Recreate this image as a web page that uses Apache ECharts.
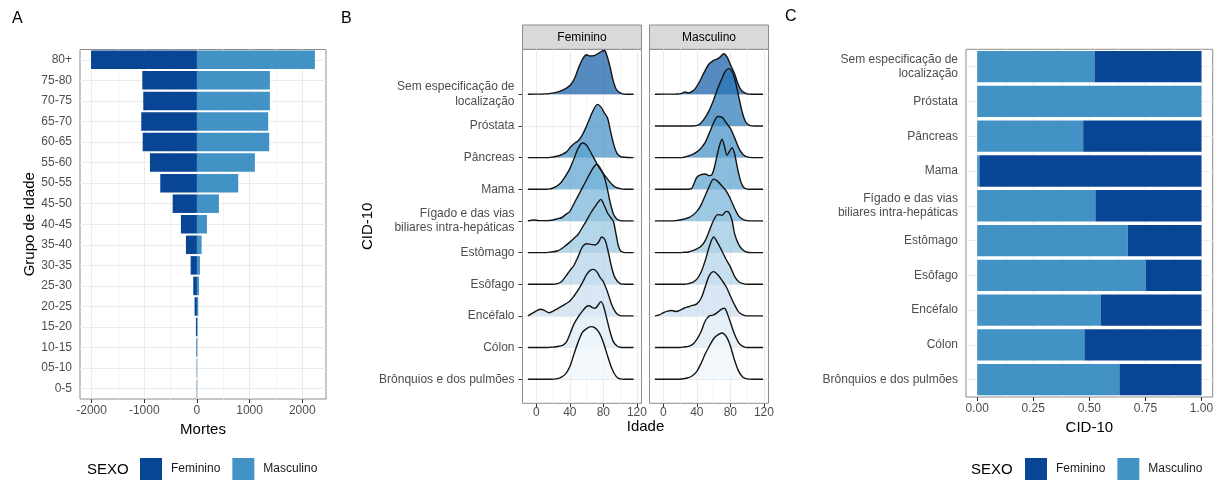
<!DOCTYPE html>
<html>
<head>
<meta charset="utf-8">
<script src="https://cdn.jsdelivr.net/npm/echarts@6/dist/echarts.min.js"></script>
<style>
html, body { margin: 0; padding: 0; background: #fff; }
#chart { width: 1221px; height: 481px; }
</style>
</head>
<body>
<div id="chart"></div>
<script>
// painel A - mortes por grupo de idade
var ageGroups = ['0-5', '05-10', '10-15', '15-20', '20-25', '25-30', '30-35', '35-40', '40-45',
    '45-50', '50-55', '55-60', '60-65', '65-70', '70-75', '75-80', '80+'];
var deathsFem = [-5, -5, -10, -20, -45, -70, -120, -209, -304, -461, -696, -892, -1030, -1057, -1019, -1037, -2010];
var deathsMasc = [5, 5, 8, 15, 25, 40, 57, 89, 190, 417, 784, 1100, 1372, 1353, 1385, 1385, 2239];
var deathTicks = [-2000, -1000, 0, 1000, 2000];
var deathMinor = [-1500, -500, 500, 1500];

// painel B e C - categorias CID-10 (de cima para baixo)
var cidCats = ['Sem especificação de\nlocalização', 'Próstata', 'Pâncreas', 'Mama',
    'Fígado e das vias\nbiliares intra-hepáticas', 'Estômago', 'Esôfago', 'Encéfalo', 'Cólon',
    'Brônquios e dos pulmões'];

// painel C - proporção por sexo
var shareMasc = [0.523, 1.0, 0.4725, 0.01, 0.527, 0.671, 0.752, 0.55, 0.478, 0.634];
var shareFem = [0.477, 0, 0.5275, 0.99, 0.473, 0.329, 0.248, 0.45, 0.522, 0.366];
var shareTicks = [0, 0.25, 0.5, 0.75, 1];
var shareMinor = [0.125, 0.375, 0.625, 0.875];

// painel B - curvas de densidade por idade [idade, altura]
var femSem = [[-10,0],[8,0.01],[15,0.02],[25,0.07],[35,0.18],[41,0.3],[46,0.52],[51,0.88],[56,1.15],[60,1.25],[64,1.21],[70,1.23],[75,1.31],[81,1.39],[84,1.24],[88,0.86],[92,0.4],[96,0.13],[102,0.02],[108,0],[116,0]];
var femPancreas = [[-10,0],[15,0],[20,0.02],[26,0.05],[31,0.1],[36,0.18],[41,0.34],[46,0.46],[50,0.53],[55,0.72],[60,1.0],[65,1.32],[69,1.55],[73,1.68],[77,1.6],[81,1.42],[85,1.25],[88,0.9],[92,0.45],[96,0.15],[100,0.04],[105,0.01],[116,0]];
var femMama = [[-10,0],[12,0],[16,0.01],[20,0.04],[25,0.11],[30,0.23],[35,0.42],[40,0.65],[45,0.97],[50,1.3],[55,1.46],[60,1.39],[65,1.16],[70,0.92],[75,0.68],[80,0.49],[85,0.32],[90,0.16],[95,0.06],[100,0.02],[106,0],[116,0]];
var femFigado = [[-10,0],[-3,0.03],[3,0.01],[12,0.01],[20,0.03],[25,0.07],[30,0.1],[35,0.2],[40,0.3],[45,0.55],[50,0.8],[55,1.05],[60,1.3],[65,1.55],[69,1.72],[72,1.79],[75,1.72],[80,1.47],[84,1.1],[88,0.6],[92,0.22],[96,0.06],[100,0.01],[106,0],[116,0]];
var femEstomago = [[-10,0],[12,0],[18,0.02],[25,0.05],[30,0.12],[35,0.22],[40,0.33],[45,0.45],[50,0.58],[55,0.8],[60,1.02],[65,1.25],[70,1.45],[74,1.6],[77,1.68],[80,1.55],[85,1.25],[89,1.1],[92,0.98],[95,0.6],[98,0.2],[101,0.04],[106,0],[116,0]];
var femEsofago = [[-10,0],[20,0],[25,0.02],[30,0.08],[35,0.25],[40,0.43],[45,0.6],[50,0.88],[55,1.18],[60,1.28],[65,1.26],[70,1.24],[74,1.32],[78,1.49],[82,1.4],[86,1.0],[90,0.52],[94,0.2],[100,0.02],[106,0],[116,0]];
var femEncefalo = [[-10,0],[-5,0.08],[0,0.16],[5,0.21],[10,0.17],[15,0.1],[20,0.15],[25,0.22],[30,0.3],[35,0.38],[40,0.47],[45,0.63],[50,0.82],[55,1.05],[60,1.3],[64,1.43],[68,1.47],[72,1.4],[76,1.22],[80,1.08],[85,0.75],[90,0.35],[95,0.1],[100,0.01],[106,0],[116,0]];
var femColon = [[-10,0],[12,0],[17,0.01],[22,0.02],[27,0.04],[32,0.08],[36,0.18],[40,0.42],[45,0.75],[50,0.97],[55,1.15],[60,1.3],[63,1.32],[67,1.26],[70,1.24],[74,1.35],[77,1.45],[80,1.32],[84,0.92],[88,0.5],[92,0.18],[96,0.06],[100,0.01],[106,0],[116,0]];
var femBronquios = [[-10,0],[18,0],[25,0.02],[30,0.07],[35,0.17],[40,0.4],[45,0.8],[50,1.18],[55,1.48],[60,1.6],[65,1.66],[70,1.62],[75,1.47],[80,1.16],[85,0.74],[90,0.35],[95,0.1],[100,0.01],[106,0],[116,0]];

var mascSem = [[-10,0],[15,0.01],[21,0.02],[26,0.07],[30,0.04],[35,0.1],[38,0.18],[42,0.34],[48,0.65],[54,0.94],[60,1.07],[64,1.11],[68,1.18],[72,1.28],[76,1.18],[80,0.94],[85,0.65],[89,0.34],[93,0.13],[99,0.02],[105,0],[119,0]];
var mascProstata = [[-10,0],[35,0],[42,0.03],[48,0.19],[54,0.45],[60,0.82],[65,1.19],[70,1.5],[74,1.73],[78,1.81],[82,1.72],[86,1.4],[90,0.92],[94,0.45],[98,0.14],[103,0.02],[110,0],[119,0]];
var mascPancreas = [[-10,0],[22,0],[30,0.05],[35,0.1],[40,0.18],[45,0.3],[50,0.48],[55,0.78],[60,1.1],[65,1.3],[70,1.28],[75,1.1],[80,0.92],[85,0.63],[90,0.3],[95,0.1],[100,0.02],[106,0],[119,0]];
var mascMama = [[-10,0],[30,0],[34,0.03],[37,0.2],[40,0.38],[45,0.46],[50,0.48],[55,0.43],[58,0.46],[61,0.7],[64,1.05],[67,1.38],[70,1.58],[73,1.35],[76,1.07],[79,1.2],[82,1.31],[85,1.12],[89,0.6],[93,0.2],[97,0.03],[102,0],[119,0]];
var mascFigado = [[-10,0],[10,0],[15,0.01],[20,0.03],[25,0.06],[30,0.1],[35,0.18],[40,0.3],[45,0.5],[50,0.8],[55,1.1],[60,1.32],[65,1.25],[70,1.1],[75,0.95],[80,0.7],[85,0.4],[90,0.15],[95,0.05],[100,0.01],[106,0],[119,0]];
var mascEstomago = [[-10,0],[20,0],[25,0.01],[30,0.02],[35,0.06],[40,0.12],[45,0.2],[50,0.38],[55,0.7],[60,1.02],[65,1.2],[70,1.18],[75,1.3],[78,1.28],[82,1.02],[85,0.6],[90,0.25],[95,0.08],[100,0.01],[106,0],[119,0]];
var mascEsofago = [[-10,0],[25,0],[30,0.02],[35,0.06],[40,0.16],[45,0.38],[50,0.75],[55,1.2],[60,1.49],[65,1.3],[70,1.05],[75,0.78],[80,0.55],[85,0.25],[90,0.08],[95,0.02],[100,0],[119,0]];
var mascEncefalo = [[-10,0],[-5,0.03],[0,0.1],[5,0.15],[10,0.17],[15,0.14],[20,0.18],[25,0.25],[30,0.29],[35,0.33],[40,0.38],[45,0.55],[50,0.92],[55,1.28],[60,1.4],[65,1.3],[70,1.12],[75,0.92],[80,0.63],[85,0.35],[90,0.12],[95,0.03],[100,0],[119,0]];
var mascColon = [[-10,0],[20,0],[25,0.02],[30,0.04],[35,0.1],[40,0.26],[45,0.5],[50,0.84],[55,1.0],[60,1.03],[65,1.12],[70,1.22],[73,1.24],[76,1.1],[80,0.8],[85,0.42],[90,0.15],[95,0.04],[100,0],[119,0]];
var mascBronquios = [[-10,0],[20,0],[25,0.02],[30,0.05],[35,0.12],[40,0.25],[45,0.5],[50,0.8],[55,1.05],[60,1.28],[65,1.4],[70,1.46],[75,1.35],[80,1.05],[85,0.6],[90,0.25],[95,0.06],[100,0.01],[106,0],[119,0]];

var femRidges = [femSem, null, femPancreas, femMama, femFigado, femEstomago, femEsofago, femEncefalo, femColon, femBronquios];
var mascRidges = [mascSem, mascProstata, mascPancreas, mascMama, mascFigado, mascEstomago, mascEsofago, mascEncefalo, mascColon, mascBronquios];
var ageTicks = [0, 40, 80, 120];
var ageMinor = [20, 60, 100];

var font = '"Liberation Sans", Arial, sans-serif';
var dark = '#084594', light = '#4292c6';
var ridgeFill = ['#0e5aa5', '#2575b7', '#3d8dc4', '#58a1cf', '#74b2d8', '#94c4df', '#b0d2e8', '#c9ddf0', '#dbe9f6', '#eef5fc'];
var labelGrey = '#4d4d4d', border = '#8c8c8c';

var myChart = echarts.init(document.getElementById('chart'));

// linhas de grade (estilo ggplot theme_bw)
function gridLines(major, minor, axis, extra) {
    var d = [];
    minor.forEach(function (v) { var o = {}; o[axis] = v; o.lineStyle = {color: '#f3f3f3'}; d.push(o); });
    major.forEach(function (v) { var o = {}; o[axis] = v; d.push(o); });
    (extra || []).forEach(function (o) { d.push(o); });
    return {
        silent: true, symbol: ['none', 'none'], label: {show: false}, z: 1, animation: false,
        lineStyle: {type: 'solid', width: 1, color: '#ebebeb'}, emphasis: {disabled: true},
        data: d
    };
}
function rowLines(n, axis) {
    var d = [];
    for (var i = 0; i < n; i++) { var o = {}; o[axis] = i; d.push(o); }
    return d;
}

function plain(v) { return String(v); }

function valueX(grid, min, max, ticks, fmt, margin, name, gap) {
    return {
        type: 'value', gridIndex: grid, min: min, max: max,
        splitLine: {show: false},
        axisLine: {show: false, onZero: false},
        axisTick: {show: true, length: 4, lineStyle: {color: '#333'}, customValues: ticks},
        axisLabel: {color: labelGrey, fontSize: 12, fontFamily: font, margin: margin, customValues: ticks, formatter: fmt},
        name: name, nameLocation: 'middle', nameGap: gap,
        nameTextStyle: {fontSize: 15, color: '#000', fontFamily: font}
    };
}

var grid = [
    {left: 80, top: 49.5, width: 246, height: 349.5},
    {left: 522.5, top: 49.3, width: 119, height: 354},
    {left: 649.5, top: 49.3, width: 119, height: 354},
    {left: 966, top: 49.3, width: 246.7, height: 347.7}
].map(function (g) {
    g.show = true; g.borderColor = border; g.borderWidth = 1;
    g.containLabel = false; g.outerBoundsMode = 'none';
    return g;
});

var xAxis = [
    valueX(0, -2220, 2450, deathTicks, plain, 6, 'Mortes', 16),
    valueX(1, -16.5, 125.5, ageTicks, plain, 3, '', 0),
    valueX(2, -16.5, 125.5, ageTicks, plain, 3, '', 0),
    valueX(3, -0.05, 1.05, shareTicks, function (v) { return v.toFixed(2); }, 6, 'CID-10', 20)
];

var yAxis = [
    {
        type: 'category', gridIndex: 0, data: ageGroups,
        axisLine: {show: false, onZero: false},
        axisTick: {alignWithLabel: true, length: 4, lineStyle: {color: '#333'}},
        axisLabel: {color: labelGrey, fontSize: 12, fontFamily: font, margin: 8},
        splitLine: {show: false},
        name: 'Grupo de Idade', nameLocation: 'middle', nameGap: 43,
        nameTextStyle: {fontSize: 15, color: '#000', fontFamily: font}
    },
    {
        type: 'value', gridIndex: 1, min: -0.76, max: 10.42,
        axisLine: {show: false, onZero: false}, splitLine: {show: false},
        axisTick: {length: 4, lineStyle: {color: '#333'}, customValues: [0, 1, 2, 3, 4, 5, 6, 7, 8, 9]},
        axisLabel: {
            color: labelGrey, fontSize: 12, fontFamily: font, margin: 8, lineHeight: 14.5,
            customValues: [0, 1, 2, 3, 4, 5, 6, 7, 8, 9],
            formatter: function (v) { return cidCats[9 - v]; }
        },
        name: 'CID-10', nameLocation: 'middle', nameGap: 146,
        nameTextStyle: {fontSize: 15, color: '#000', fontFamily: font}
    },
    {
        type: 'value', gridIndex: 2, min: -0.76, max: 10.42,
        axisLine: {show: false, onZero: false}, splitLine: {show: false},
        axisTick: {show: false}, axisLabel: {show: false}
    },
    {
        type: 'category', gridIndex: 3, data: cidCats, inverse: true,
        axisLine: {show: false, onZero: false},
        axisTick: {alignWithLabel: true, length: 4, lineStyle: {color: '#333'}},
        axisLabel: {color: labelGrey, fontSize: 12, fontFamily: font, margin: 8, lineHeight: 14.5},
        splitLine: {show: false}
    }
];

var series = [
    {
        name: 'Feminino', type: 'bar', xAxisIndex: 0, yAxisIndex: 0, data: deathsFem,
        barGap: '-100%', barCategoryGap: '10%', itemStyle: {color: dark},
        markLine: gridLines(deathTicks, deathMinor, 'xAxis', rowLines(ageGroups.length, 'yAxis'))
    },
    {
        name: 'Masculino', type: 'bar', xAxisIndex: 0, yAxisIndex: 0, data: deathsMasc,
        barGap: '-100%', barCategoryGap: '10%', itemStyle: {color: light}
    },
    {
        name: 'Masculino', type: 'bar', xAxisIndex: 3, yAxisIndex: 3, data: shareMasc, stack: 'prop',
        barCategoryGap: '10%', itemStyle: {color: light},
        markLine: gridLines(shareTicks, shareMinor, 'xAxis', rowLines(cidCats.length, 'yAxis'))
    },
    {
        name: 'Feminino', type: 'bar', xAxisIndex: 3, yAxisIndex: 3, data: shareFem, stack: 'prop',
        barCategoryGap: '10%', itemStyle: {color: dark}
    }
];

// cristas: de cima para baixo, para que as de baixo fiquem na frente
function addRidges(ridges, axisIndex) {
    var first = true;
    ridges.forEach(function (pts, i) {
        if (!pts) return;
        var base = 9 - i;
        var s = {
            type: 'line', xAxisIndex: axisIndex, yAxisIndex: axisIndex,
            data: pts.map(function (p) { return [p[0], base + p[1]]; }),
            smooth: 0.3, symbol: 'none', z: 3,
            lineStyle: {color: '#141414', width: 1.4},
            areaStyle: {origin: base, color: ridgeFill[i], opacity: 0.7},
            emphasis: {disabled: true}
        };
        if (first) {
            s.markLine = gridLines(ageTicks, ageMinor, 'xAxis', rowLines(10, 'yAxis'));
            first = false;
        }
        series.push(s);
    });
}
addRidges(femRidges, 1);
addRidges(mascRidges, 2);

function legendAt(left) {
    return {
        data: ['Feminino', 'Masculino'], left: left, top: 458, orient: 'horizontal',
        icon: 'rect', itemWidth: 22, itemHeight: 22, itemGap: 12, selectedMode: false, padding: 0,
        textStyle: {fontSize: 12, color: '#1a1a1a', fontFamily: font, padding: [0, 0, 0, 4]}
    };
}

function txt(x, y, s, size, align) {
    return {
        type: 'text', x: x, y: y, silent: true,
        style: {text: s, fontSize: size, fontFamily: font, fill: '#000', align: align || 'left', verticalAlign: 'middle'}
    };
}

var option = {
    animation: false,
    textStyle: {fontFamily: font},
    grid: grid,
    xAxis: xAxis,
    yAxis: yAxis,
    legend: [legendAt(140), legendAt(1025)],
    series: series,
    graphic: [
        txt(12, 19, 'A', 16), txt(341, 19, 'B', 16), txt(785, 17, 'C', 16),
        {type: 'rect', shape: {x: 522.5, y: 25, width: 119, height: 24.3}, style: {fill: '#d9d9d9', stroke: border, lineWidth: 1}},
        {type: 'rect', shape: {x: 649.5, y: 25, width: 119, height: 24.3}, style: {fill: '#d9d9d9', stroke: border, lineWidth: 1}},
        txt(582, 37.5, 'Feminino', 12, 'center'),
        txt(709, 37.5, 'Masculino', 12, 'center'),
        txt(645.5, 427, 'Idade', 15, 'center'),
        txt(87, 470, 'SEXO', 15),
        txt(971, 470, 'SEXO', 15)
    ]
};

myChart.setOption(option);
</script>
</body>
</html>
